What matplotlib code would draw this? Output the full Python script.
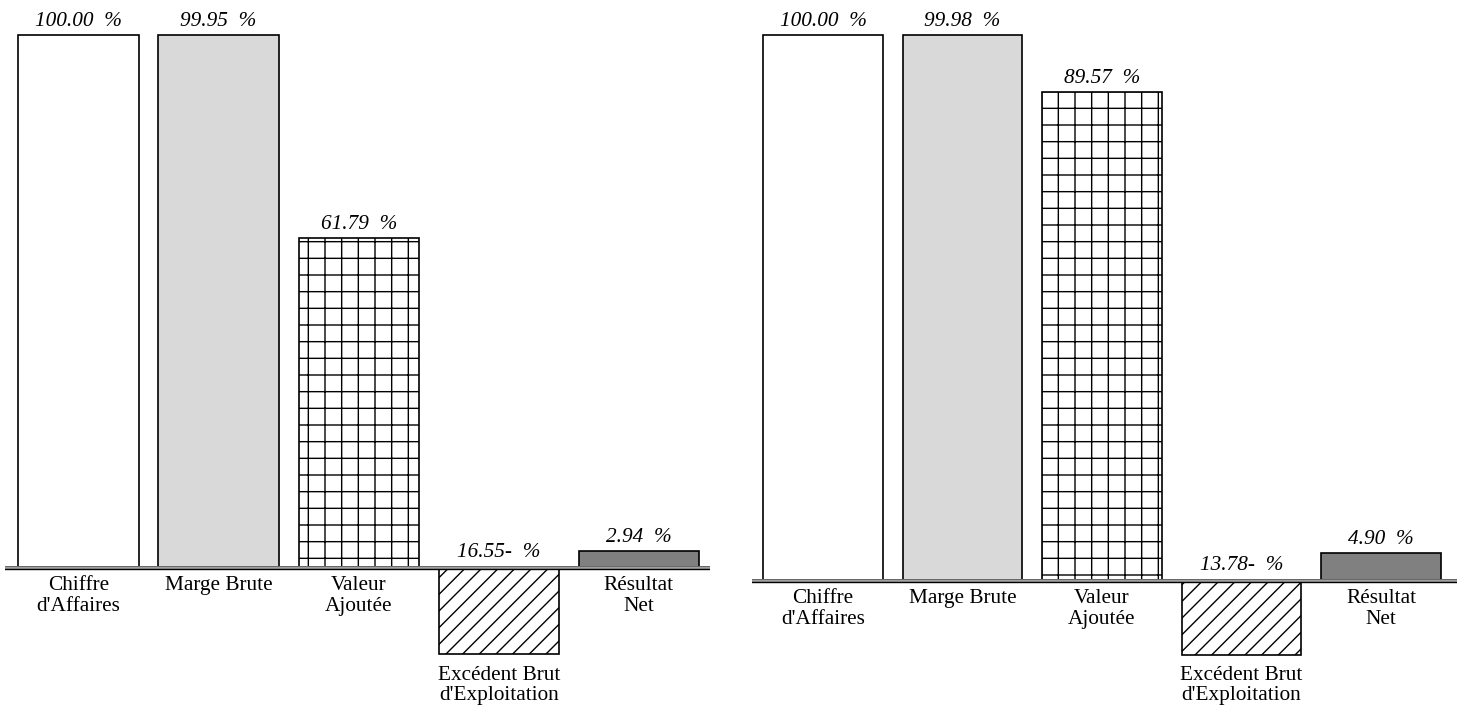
import matplotlib
matplotlib.use("Agg")
import matplotlib.pyplot as plt
from matplotlib.patches import Rectangle

categories = ["Chiffre\nd'Affaires", "Marge Brute", "Valeur\nAjoutée",
              "Excédent Brut\nd'Exploitation", "Résultat\nNet"]
values_left = [100.00, 99.95, 61.79, -16.55, 2.94]
values_right = [100.00, 99.98, 89.57, -13.78, 4.90]

faces = ["white", "#d9d9d9", "white", "white", "#808080"]
hatches = [None, None, "+", "//", None]

W, H = 1466, 706
fig = plt.figure(figsize=(W / 100, H / 100), dpi=100)
plt.rcParams['hatch.linewidth'] = 1.0

SERIF = ["Liberation Serif", "DejaVu Serif"]
FS = 15.3


def fmt(v):
    if v < 0:
        return f"{abs(v):.2f}-  %"
    return f"{v:.2f}  %"


def panel(x0, x1, zero_y, top100_y, xl, xr, values):
    ax = fig.add_axes([x0 / W, 0, (x1 - x0) / W, 1])
    ppu = (zero_y - top100_y) / 100.0
    ax.set_ylim(-(H - zero_y) / ppu, zero_y / ppu)
    ax.set_xlim(xl, xr)
    ax.axis("off")
    xs = list(range(len(values)))
    for x, v, fc, h in zip(xs, values, faces, hatches):
        ax.bar(x, v, width=0.86, color=fc, edgecolor="black", linewidth=1.2,
               hatch=h, zorder=2)
    # axis line: gray band with black lower edge
    px = 1.0 / ppu
    ax.add_patch(Rectangle((xl, -2.2 * px), xr - xl, 2.6 * px, facecolor="#a0a0a0",
                           edgecolor="none", zorder=3, clip_on=False))
    ax.plot([xl, xr], [-2.4 * px, -2.4 * px], color="black", lw=1.0, zorder=4)
    ax.plot([xl, xr], [0.4 * px, 0.4 * px], color="#505050", lw=0.5, zorder=4)
    for x, v, c in zip(xs, values, categories):
        ytxt = v if v > 0 else 0
        ax.annotate(fmt(v), (x, ytxt), xytext=(0, 3.0), textcoords="offset points",
                    ha="center", va="bottom", fontsize=FS, style="italic",
                    family=SERIF, zorder=5)
        ycat = 0 if v > 0 else v
        ax.annotate(c, (x, ycat), xytext=(0, -7 if v > 0 else -8),
                    textcoords="offset points", ha="center", va="top",
                    fontsize=FS, family=SERIF, linespacing=1.13, zorder=5)
    return ax


panel(5, 710, 566.5, 35, -0.525, 4.507, values_left)
panel(752, 1457, 579.5, 35, -0.509, 4.545, values_right)

fig.savefig("out.png", dpi=100)
